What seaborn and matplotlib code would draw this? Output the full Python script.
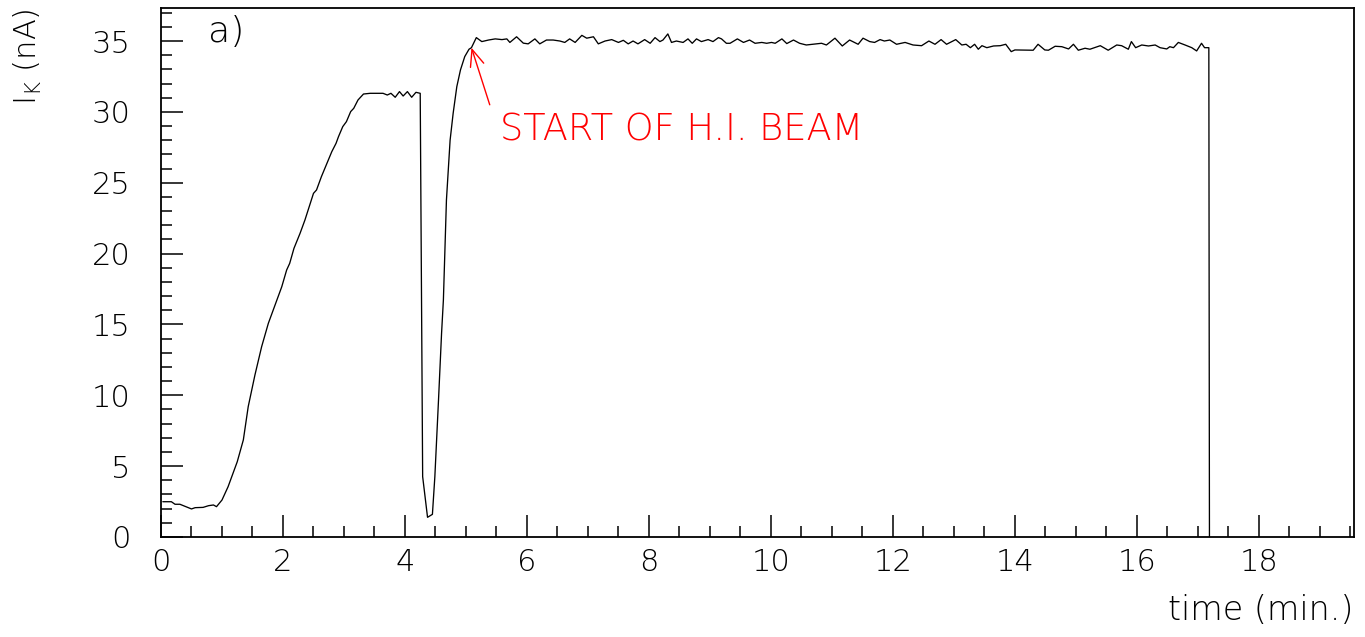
import numpy as np
import pandas as pd
import matplotlib
matplotlib.use("Agg")
import matplotlib.pyplot as plt
from matplotlib.ticker import MultipleLocator
from matplotlib.patches import ArrowStyle
import seaborn as sns

# Cathode current I_K (nA) versus time (min.)
ramp_time = [0.03, 0.17, 0.23, 0.31, 0.50, 0.56, 0.69, 0.78, 0.86, 0.91,
             1.00, 1.10, 1.25, 1.35, 1.43, 1.54, 1.65, 1.76, 1.90, 1.98,
             2.06, 2.11, 2.18, 2.28, 2.36, 2.43, 2.50, 2.55, 2.63, 2.72,
             2.80, 2.87, 2.91, 2.98, 3.04, 3.11, 3.16, 3.23, 3.32, 3.43,
             3.64, 3.71, 3.77, 3.84, 3.91, 3.97, 4.04, 4.11, 4.18, 4.25]
ramp_current = [2.49, 2.49, 2.31, 2.31, 1.98, 2.07, 2.09, 2.21, 2.26, 2.14,
                2.61, 3.55, 5.31, 6.85, 9.20, 11.43, 13.43, 15.08, 16.73, 17.66,
                18.84, 19.31, 20.37, 21.43, 22.37, 23.31, 24.25, 24.49, 25.43, 26.37,
                27.19, 27.78, 28.25, 28.96, 29.31, 30.02, 30.25, 30.84, 31.26, 31.31,
                31.31, 31.19, 31.31, 31.03, 31.43, 31.12, 31.43, 31.03, 31.38, 31.31]

dip_time = [4.29, 4.37, 4.45, 4.49, 4.55, 4.60, 4.63, 4.68, 4.74, 4.79,
            4.85, 4.91, 4.98, 5.05, 5.09]
dip_current = [4.26, 1.39, 1.60, 4.26, 9.67, 14.37, 16.73, 23.78, 28.00, 29.90,
               31.78, 32.96, 33.90, 34.42, 34.53]

beam_time = [5.17, 5.26, 5.37, 5.48, 5.59, 5.67, 5.72, 5.83, 5.94, 6.02,
             6.13, 6.21, 6.32, 6.43, 6.54, 6.62, 6.70, 6.79, 6.90, 6.98,
             7.09, 7.17, 7.28, 7.39, 7.50, 7.58, 7.66, 7.74, 7.82, 7.93,
             8.02, 8.10, 8.18, 8.23, 8.31, 8.37, 8.45, 8.56, 8.64, 8.71,
             8.78, 8.86, 8.97, 9.05, 9.14, 9.19, 9.27, 9.33, 9.45, 9.55,
             9.65, 9.74, 9.85, 9.93, 10.01, 10.07, 10.18, 10.26, 10.37, 10.47,
             10.58, 10.69, 10.83, 10.91, 11.05, 11.17, 11.29, 11.43, 11.51, 11.62,
             11.70, 11.79, 11.86, 11.95, 12.06, 12.20, 12.33, 12.47, 12.59, 12.69,
             12.79, 12.88, 13.03, 13.13, 13.20, 13.27, 13.34, 13.40, 13.46, 13.54,
             13.65, 13.76, 13.85, 13.94, 14.00, 14.30, 14.38, 14.49, 14.55, 14.66,
             14.77, 14.88, 14.96, 15.04, 15.15, 15.23, 15.40, 15.53, 15.67, 15.75,
             15.86, 15.91, 15.98, 16.08, 16.19, 16.30, 16.38, 16.49, 16.54, 16.60,
             16.68, 16.79, 16.90, 16.98, 17.06, 17.11, 17.18, 17.19]
beam_current = [35.24, 34.96, 35.07, 35.15, 35.10, 35.15, 34.90, 35.30, 34.85, 34.80,
                35.15, 34.80, 35.07, 35.07, 35.00, 34.90, 35.15, 34.90, 35.40, 35.20,
                35.30, 34.80, 35.00, 35.10, 34.90, 35.05, 34.80, 35.00, 34.80, 35.10,
                34.84, 35.24, 34.96, 35.07, 35.50, 34.90, 35.00, 34.90, 35.15, 34.84,
                35.15, 34.96, 35.10, 34.96, 35.24, 35.15, 34.84, 34.84, 35.15, 34.90,
                35.07, 34.84, 34.90, 34.84, 34.90, 34.84, 35.15, 34.82, 35.07, 34.84,
                34.72, 34.77, 34.84, 34.72, 35.20, 34.65, 35.07, 34.77, 35.20, 34.96,
                34.90, 35.10, 35.00, 35.07, 34.77, 34.90, 34.72, 34.67, 35.00, 34.77,
                35.10, 34.77, 35.10, 34.72, 34.77, 34.53, 34.77, 34.42, 34.67, 34.53,
                34.65, 34.67, 34.77, 34.25, 34.37, 34.35, 34.77, 34.37, 34.35, 34.63,
                34.60, 34.44, 34.77, 34.35, 34.49, 34.42, 34.67, 34.35, 34.72, 34.67,
                34.42, 34.96, 34.53, 34.72, 34.65, 34.72, 34.53, 34.44, 34.60, 34.53,
                34.90, 34.72, 34.53, 34.30, 34.84, 34.53, 34.53, 0.00]

beam_start = (5.09, 34.53)
note_anchor = (5.39, 30.5)
note_text = "START OF H.I. BEAM"
panel_tag = "a)"

df = pd.DataFrame({
    "time": ramp_time + dip_time + beam_time,
    "current": ramp_current + dip_current + beam_current,
})

sns.set_theme(style="ticks")
FONT = ["DejaVu Sans"]
W = 200
plt.rcParams["font.family"] = FONT
plt.rcParams["font.weight"] = W
plt.rcParams["axes.labelweight"] = W

fig = plt.figure(figsize=(13.65, 6.37), dpi=100)
ax = fig.add_axes([161 / 1365, 1 - 537 / 637, (1354 - 161) / 1365, (537 - 8) / 637])

sns.lineplot(data=df, x="time", y="current", ax=ax, color="black",
             linewidth=0.95, estimator=None, sort=False)

ax.set_xlim(0, 19.56)
ax.set_ylim(0, 37.33)
ax.xaxis.set_major_locator(MultipleLocator(2))
ax.xaxis.set_minor_locator(MultipleLocator(0.5))
ax.yaxis.set_major_locator(MultipleLocator(5))
ax.yaxis.set_minor_locator(MultipleLocator(1))

for side in ["top", "right", "bottom", "left"]:
    ax.spines[side].set_visible(True)
    ax.spines[side].set_linewidth(1.3)
    ax.spines[side].set_color("black")

ax.tick_params(axis="both", which="major", direction="in", length=16, width=1.1,
               color="black", labelsize=22, labelcolor="black")
ax.tick_params(axis="both", which="minor", direction="in", length=8, width=1.1,
               color="black")
ax.tick_params(axis="x", which="major", pad=8)
ax.tick_params(axis="y", which="major", pad=22)
for lab in ax.get_xticklabels() + ax.get_yticklabels():
    lab.set_fontweight(W)

ax.set_xlabel("time (min.)", fontsize=24, color="black", fontweight=W,
              loc="right", labelpad=12)
ax.set_ylabel(r"$\mathregular{I_K}$ (nA)", fontsize=22, color="black",
              fontweight=W, loc="top")
ax.yaxis.set_label_coords(-0.098, 1.0)

ax.text(0.039, 0.936, panel_tag, transform=ax.transAxes, fontsize=26,
        fontweight=W, color="black", ha="left", va="baseline")

ax.annotate("", xy=beam_start, xytext=note_anchor,
            arrowprops=dict(arrowstyle=ArrowStyle("->", head_length=12, head_width=5),
                            mutation_scale=1, color="red", lw=1.0,
                            shrinkA=0, shrinkB=0))
ax.text(5.557, 27.97, note_text, color="red", fontsize=26.5, fontweight=W,
        ha="left", va="baseline")

fig.savefig("out.png", dpi=100, facecolor="white")
